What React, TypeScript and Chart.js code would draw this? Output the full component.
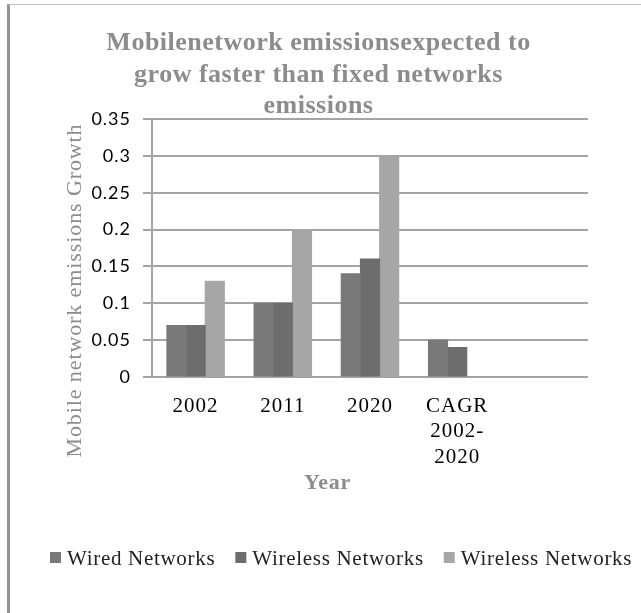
import React, { useEffect, useRef } from "react";
import { Chart, registerables } from "chart.js";

Chart.register(...registerables);

// Chart data
const categories: (string | string[])[] = ["2002", "2011", "2020", ["CAGR", "2002-", "2020"], ""];
const wiredNetworks: (number | null)[] = [0.07, 0.1, 0.14, 0.05, null];
const wirelessNetworks: (number | null)[] = [0.07, 0.1, 0.16, 0.04, null];
const wirelessNetworksB: (number | null)[] = [0.13, 0.2, 0.3, null, null];
const seriesNames = ["Wired Networks", "Wireless Networks", "Wireless Networks"];
const seriesColors = ["#797979", "#6d6d6d", "#a6a6a6"];

const titleLines = ["Mobilenetwork emissionsexpected to", "grow faster than fixed networks", "emissions"];
const yAxisTitle = "Mobile network emissions Growth";
const xAxisTitle = "Year";
const yMin = 0;
const yMax = 0.35;
const yStep = 0.05;

const SERIF = '"Liberation Serif", "Times New Roman", serif';
const SANS = 'Lato, "Open Sans", sans-serif';
const GRID = "#a4a4a4";

// Draws the chart title, axis titles and legend as canvas text
const textPlugin = {
  id: "chartText",
  beforeDraw(chart: any) {
    chart.ctx.letterSpacing = "1px";
  },
  afterDraw(chart: any) {
    const ctx: CanvasRenderingContext2D = chart.ctx;

    // title
    ctx.save();
    ctx.fillStyle = "#8c8c8c";
    ctx.textAlign = "center";
    ctx.textBaseline = "alphabetic";
    ctx.font = `bold 26px ${SERIF}`;
    (ctx as any).letterSpacing = "0.5px";
    titleLines.forEach((line, i) => ctx.fillText(line, 318.5, 50 + i * 31.5));
    ctx.restore();

    // y-axis title
    ctx.save();
    ctx.fillStyle = "#8c8c8c";
    ctx.font = `22px ${SERIF}`;
    (ctx as any).letterSpacing = "0.9px";
    ctx.textAlign = "center";
    ctx.textBaseline = "alphabetic";
    ctx.translate(81, 290.5);
    ctx.rotate(-Math.PI / 2);
    ctx.fillText(yAxisTitle, 0, 0);
    ctx.restore();

    // x-axis title
    ctx.save();
    ctx.fillStyle = "#8c8c8c";
    ctx.font = `bold 22px ${SERIF}`;
    (ctx as any).letterSpacing = "0.7px";
    ctx.textAlign = "center";
    ctx.textBaseline = "alphabetic";
    ctx.fillText(xAxisTitle, 327.5, 489);
    ctx.restore();

    // legend
    ctx.save();
    ctx.font = `21px ${SERIF}`;
    (ctx as any).letterSpacing = "0.7px";
    ctx.textAlign = "left";
    ctx.textBaseline = "alphabetic";
    let x = 50;
    chart.data.datasets.forEach((ds: any) => {
      ctx.fillStyle = ds.backgroundColor;
      ctx.fillRect(x, 552, 11, 11);
      ctx.fillStyle = "#222";
      ctx.fillText(ds.label, x + 17, 565);
      x += 17 + ctx.measureText(ds.label).width + 20;
    });
    ctx.restore();
  },
};

export default function App() {
  const canvasRef = useRef<HTMLCanvasElement>(null);

  useEffect(() => {
    const canvas = canvasRef.current;
    if (!canvas) return;
    const chart = new Chart(canvas, {
      type: "bar",
      data: {
        labels: categories,
        datasets: [
          { label: seriesNames[0], data: wiredNetworks, backgroundColor: seriesColors[0] },
          { label: seriesNames[1], data: wirelessNetworks, backgroundColor: seriesColors[1] },
          { label: seriesNames[2], data: wirelessNetworksB, backgroundColor: seriesColors[2] },
        ],
      },
      options: {
        animation: false,
        responsive: false,
        devicePixelRatio: 1,
        layout: { padding: { top: 119, left: 0, right: 53, bottom: 136 } },
        datasets: {
          bar: { categoryPercentage: 0.66, barPercentage: 1, borderWidth: 0, inflateAmount: 0.5 },
        },
        plugins: {
          legend: { display: false },
          title: { display: false },
          tooltip: { enabled: false },
        },
        scales: {
          x: {
            afterFit: (scale: any) => {
              scale.height = 100;
            },
            grid: { display: false },
            border: { display: false },
            ticks: {
              color: "#000",
              padding: 9,
              maxRotation: 0,
              autoSkip: false,
              font: { family: SERIF, size: 21, lineHeight: 1.2 },
            },
          },
          y: {
            min: yMin,
            max: yMax,
            afterFit: (scale: any) => {
              scale.width = 152;
            },
            grid: { color: GRID, lineWidth: 2, tickLength: 9, tickColor: GRID },
            border: { color: GRID, width: 2 },
            ticks: {
              stepSize: yStep,
              color: "#000",
              padding: 12,
              font: { family: SANS, size: 18 },
              callback: (v: any) => String(parseFloat(Number(v).toFixed(2))),
            },
          },
        },
      },
      plugins: [textPlugin],
    });
    return () => chart.destroy();
  }, []);

  return (
    <div style={{ position: "fixed", left: 0, top: 0, width: 641, height: 613, background: "#fff" }}>
      <div
        style={{
          position: "absolute",
          left: 7,
          top: 4,
          right: 0,
          bottom: 0,
          borderTop: "1px solid #bfbfbf",
          borderLeft: "3px solid #939393",
        }}
      />
      <canvas
        ref={canvasRef}
        width={641}
        height={613}
        style={{ position: "absolute", left: 0, top: 0, width: 641, height: 613 }}
      />
    </div>
  );
}
